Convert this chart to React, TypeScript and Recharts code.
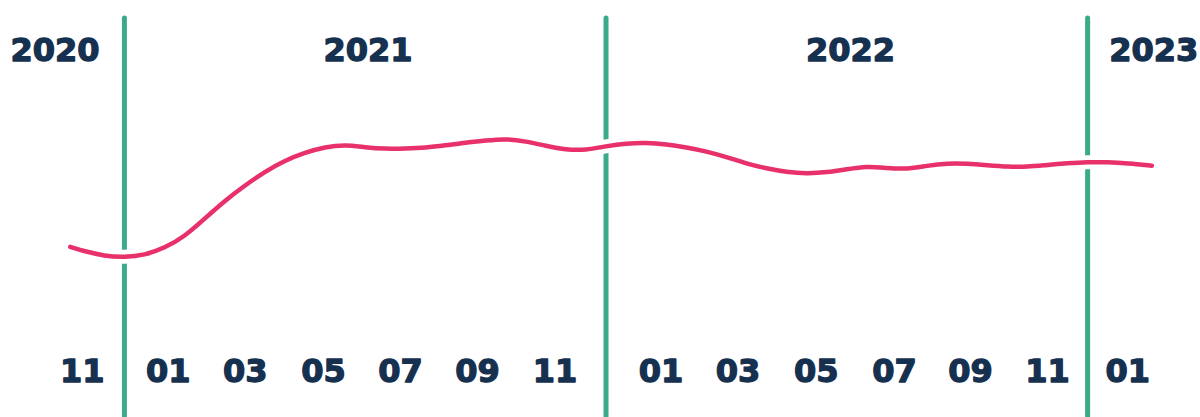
import React from 'react';
import { LineChart, Line, XAxis, YAxis, ReferenceLine } from 'recharts';

// month index: 0 = start of Nov 2020
const months = [0.65, 1, 1.5, 2, 2.5, 3, 3.5, 4, 4.5, 5, 5.5, 6, 6.5, 7, 7.5, 8, 8.5, 9, 9.5, 10, 10.5, 11, 11.5, 12, 12.5, 13, 13.5, 14, 14.5, 15, 15.5, 16, 16.5, 17, 17.5, 18, 18.5, 19, 19.5, 20, 20.5, 21, 21.5, 22, 22.5, 23, 23.5, 24, 24.5, 25, 25.5, 26, 26.5, 27, 27.6];
const values = [42.5, 41.4, 40.2, 39.9, 40.4, 42.2, 45.1, 49.6, 54.1, 57.9, 61.4, 64.2, 66.2, 67.6, 68.2, 67.5, 67.1, 67.2, 67.4, 68.0, 68.7, 69.2, 69.7, 69.0, 67.9, 66.9, 66.8, 67.8, 68.5, 68.7, 68.3, 67.5, 66.5, 65.1, 63.4, 62.2, 61.3, 60.9, 61.2, 62.0, 62.8, 62.3, 62.0, 62.9, 63.5, 63.4, 63.0, 62.6, 62.6, 63.1, 63.5, 63.8, 63.8, 63.5, 62.9];

const monthTicks = [0.95, 3.09, 5.01, 6.96, 8.88, 10.8, 12.73, 15.37, 17.29, 19.24, 21.19, 23.08, 25.0, 27.0];
const monthLabels = ['11', '01', '03', '05', '07', '09', '11', '01', '03', '05', '07', '09', '11', '01'];
const yearTicks = [0.27, 8.07, 20.09, 27.65];
const yearLabels = ['2020', '2021', '2022', '2023'];
const yearBreaks = [2, 14, 26];

const data = months.map((m, i) => ({ m, v: values[i] }));

const NAVY = '#16304f';
const PINK = '#e8306a';
const GREEN = '#3baa8b';
const textStyle = {
  fontFamily: '"DejaVu Sans", sans-serif',
  fontWeight: 700,
  fontSize: 32,
  fill: NAVY,
  stroke: NAVY,
  strokeWidth: 1.3,
  strokeLinejoin: 'round',
} as const;

const MonthTick = (props: any) => {
  const { x, y, index } = props;
  return (
    <text x={x} y={y} dy={-42} textAnchor="middle" style={textStyle}>
      {monthLabels[index]}
    </text>
  );
};

const YearTick = (props: any) => {
  const { x, y, index } = props;
  return (
    <text x={x} y={y} dy={51} textAnchor="middle" style={textStyle}>
      {yearLabels[index]}
    </text>
  );
};

export default function App() {
  return (
    <div style={{ position: 'absolute', left: 0, top: 0, width: 1200, height: 417, background: '#fff' }}>
      <LineChart width={1200} height={417} data={data} margin={{ top: 17, right: 0, bottom: 0, left: 0 }}>
        <XAxis
          xAxisId="bottom"
          dataKey="m"
          type="number"
          domain={[-1.1, 28.8]}
          ticks={monthTicks}
          interval={0}
          height={1}
          axisLine={false}
          tickLine={false}
          tick={<MonthTick />}
        />
        <XAxis
          xAxisId="top"
          orientation="top"
          dataKey="m"
          type="number"
          domain={[-1.1, 28.8]}
          ticks={yearTicks}
          interval={0}
          height={1}
          axisLine={false}
          tickLine={false}
          tick={<YearTick />}
        />
        <YAxis hide type="number" domain={[0, 100]} />
        {yearBreaks.map((b) => (
          <ReferenceLine key={b} x={b} xAxisId="bottom" stroke={GREEN} strokeWidth={5} strokeLinecap="round" />
        ))}
        <Line
          xAxisId="bottom"
          dataKey="v"
          type="basis"
          stroke="#ffffff"
          strokeWidth={14}
          dot={false}
          activeDot={false}
          isAnimationActive={false}
        />
        <Line
          xAxisId="bottom"
          dataKey="v"
          type="basis"
          stroke={PINK}
          strokeWidth={4.5}
          strokeLinecap="round"
          dot={false}
          activeDot={false}
          isAnimationActive={false}
        />
      </LineChart>
    </div>
  );
}
